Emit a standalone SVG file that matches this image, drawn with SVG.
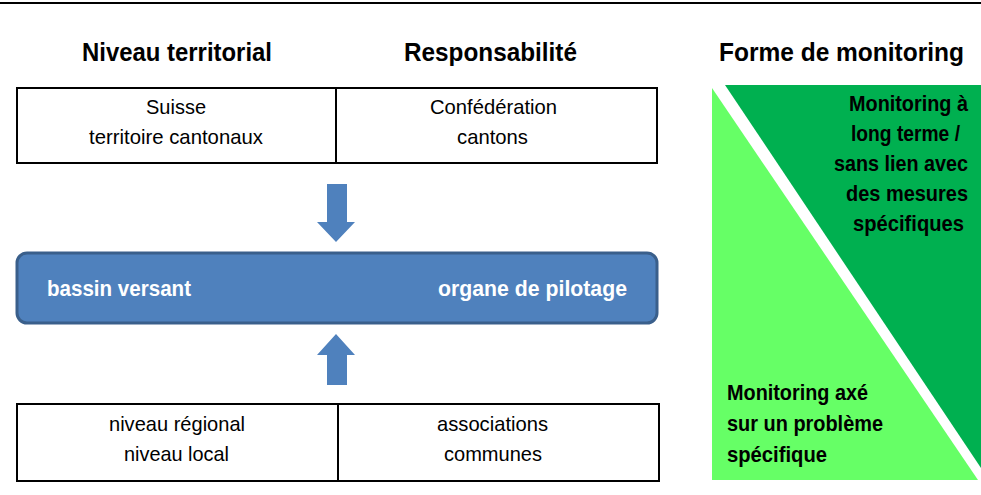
<svg xmlns="http://www.w3.org/2000/svg" width="981" height="495" viewBox="0 0 981 495">
  <style>
    text { font-family: "Liberation Sans Narrow", "Liberation Sans", Arial, sans-serif; }
    .head { font-weight: bold; font-size: 25px; fill: #000; }
    .cell { fill: #fff; stroke: #000; stroke-width: 2; }
    .cellText { font-size: 21px; fill: #000; }
    .barText { font-weight: bold; font-size: 22px; fill: #fff; }
    .monText { font-weight: bold; font-size: 22px; fill: #000; }
    .arrow { fill: #4f81bd; }
  </style>

  <!-- top rule -->
  <line x1="0" y1="3" x2="981" y2="3" stroke="#000" stroke-width="2"/>

  <!-- column headings -->
  <g id="headings">
    <text class="head" x="82" y="61" textLength="190" lengthAdjust="spacingAndGlyphs">Niveau territorial</text>
    <text class="head" x="404" y="61" textLength="173" lengthAdjust="spacingAndGlyphs">Responsabilité</text>
    <text class="head" x="719" y="61" textLength="245" lengthAdjust="spacingAndGlyphs">Forme de monitoring</text>
  </g>

  <!-- national level -->
  <g id="national-territory">
    <rect class="cell" x="17" y="88" width="319" height="75"/>
    <text class="cellText" x="146" y="114" textLength="60" lengthAdjust="spacingAndGlyphs">Suisse</text>
    <text class="cellText" x="89" y="144" textLength="174" lengthAdjust="spacingAndGlyphs">territoire cantonaux</text>
  </g>
  <g id="national-responsibility">
    <rect class="cell" x="336" y="88" width="321" height="75"/>
    <text class="cellText" x="430" y="114" textLength="127" lengthAdjust="spacingAndGlyphs">Confédération</text>
    <text class="cellText" x="457" y="144" textLength="71" lengthAdjust="spacingAndGlyphs">cantons</text>
  </g>

  <!-- catchment level -->
  <g id="catchment">
    <rect x="17" y="253" width="640" height="70" rx="10" ry="10" fill="#4f81bd" stroke="#3a5f8b" stroke-width="3"/>
    <text class="barText" x="47" y="296" textLength="144" lengthAdjust="spacingAndGlyphs">bassin versant</text>
    <text class="barText" x="438" y="296" textLength="189" lengthAdjust="spacingAndGlyphs">organe de pilotage</text>
  </g>

  <!-- regional / local level -->
  <g id="local-territory">
    <rect class="cell" x="17" y="404" width="321" height="77"/>
    <text class="cellText" x="109" y="431" textLength="136" lengthAdjust="spacingAndGlyphs">niveau régional</text>
    <text class="cellText" x="124" y="461" textLength="105" lengthAdjust="spacingAndGlyphs">niveau local</text>
  </g>
  <g id="local-responsibility">
    <rect class="cell" x="338" y="404" width="321" height="77"/>
    <text class="cellText" x="437" y="431" textLength="111" lengthAdjust="spacingAndGlyphs">associations</text>
    <text class="cellText" x="444" y="461" textLength="98" lengthAdjust="spacingAndGlyphs">communes</text>
  </g>

  <!-- connectors -->
  <g id="connectors">
    <polygon class="arrow" points="327,184 347,184 347,222 355,222 336,242 317,222 327,222"/>
    <polygon class="arrow" points="336,334 355,355 347,355 347,385 327,385 327,355 317,355"/>
  </g>

  <!-- monitoring forms -->
  <g id="monitoring-long-term">
    <polygon points="725,85 981,85 981,468" fill="#00b050"/>
    <text class="monText" x="849" y="111" textLength="119" lengthAdjust="spacingAndGlyphs">Monitoring à</text>
    <text class="monText" x="851" y="141" textLength="109" lengthAdjust="spacingAndGlyphs">long terme /</text>
    <text class="monText" x="834" y="171" textLength="134" lengthAdjust="spacingAndGlyphs">sans lien avec</text>
    <text class="monText" x="846" y="201" textLength="122" lengthAdjust="spacingAndGlyphs">des mesures</text>
    <text class="monText" x="853" y="231" textLength="111" lengthAdjust="spacingAndGlyphs">spécifiques</text>
  </g>
  <g id="monitoring-specific">
    <polygon points="712,88 712,480 978,480" fill="#66ff66"/>
    <text class="monText" x="727" y="400" textLength="141" lengthAdjust="spacingAndGlyphs">Monitoring axé</text>
    <text class="monText" x="727" y="431" textLength="156" lengthAdjust="spacingAndGlyphs">sur un problème</text>
    <text class="monText" x="727" y="462" textLength="100" lengthAdjust="spacingAndGlyphs">spécifique</text>
  </g>
</svg>
